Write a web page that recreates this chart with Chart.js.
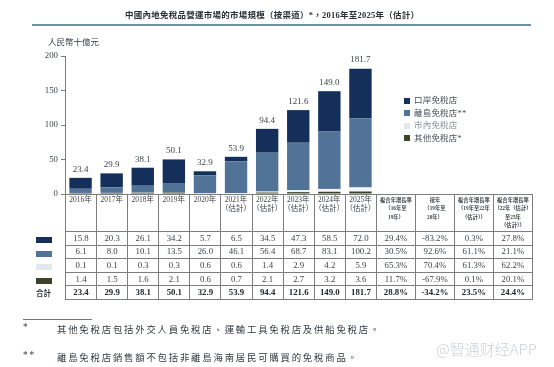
<!DOCTYPE html>
<html>
<head>
<meta charset="utf-8">
<script src="https://cdn.jsdelivr.net/npm/chart.js@4/dist/chart.umd.min.js"></script>
<style>
  html, body { margin: 0; padding: 0; background: #fff; }
  body { width: 554px; height: 367px; position: relative; overflow: hidden;
    font-family: "Liberation Serif", "Noto Sans CJK TC", serif; color: #33393f; }
  #chartBox { position: absolute; left: 0; top: 0; width: 554px; height: 367px; }
  .txt { position: absolute; white-space: nowrap; }
  #title { left: 125px; top: 8px; font-size: 8.5px; letter-spacing: 0.25px; font-weight: bold; color: #2b2f33; }
  #rule { position: absolute; left: 32px; top: 24px; width: 499px; height: 2px; background: #6f929d; }
  #unit { left: 48px; top: 35px; font-size: 8.5px; }
  #legendBox { position: absolute; left: 404px; top: 94px; font-size: 8.5px; line-height: 12.6px; color: #4a5056; }
  #legendBox div { position: relative; padding-left: 10px; white-space: nowrap; letter-spacing: 0.2px; }
  #legendBox div:nth-child(3) { color: #8a9098; }
  #legendBox i { position: absolute; left: 0; top: 3.5px; width: 6px; height: 6px; }
  table { position: absolute; left: 65px; top: 194px; border-collapse: collapse; table-layout: fixed; width: 468px; }
  td { border: 1px solid #7d7d7d; padding: 0; text-align: center; font-size: 8.8px; height: 12.6px; line-height: 11px; color: #3d4349; overflow: hidden; }
  tr.head td { height: 35px; font-size: 5.3px; line-height: 8.4px; vertical-align: top; padding-top: 1px; font-weight: bold; white-space: nowrap; }
  tr.head td.blank { border-top: none; }
  tr.total td { font-weight: bold; color: #22262a; }
  .swatch { position: absolute; left: 36px; width: 16px; height: 6px; }
  #totalLabel { left: 36px; top: 287px; font-size: 7.5px; font-weight: bold; }
  #noteRule { position: absolute; left: 23px; top: 319px; width: 69px; height: 1px; background: #777; }
  .note { font-size: 9.4px; letter-spacing: 1.8px; color: #33393f; }
  #mark { left: 436px; top: 338px; font-size: 15px; color: #cfd1d4; font-family: "Noto Sans CJK SC", sans-serif; font-weight: 300; }
</style>
</head>
<body>
<div id="chartBox"><canvas id="myChart"></canvas></div>
<div class="txt" id="title">中國內地免稅品營運市場的市場規模（按渠道）*，2016年至2025年（估計）</div>
<div id="rule"></div>
<div class="txt" id="unit">人民幣十億元</div>
<div id="legendBox"></div>
<table id="dataTable"></table>
<div class="txt" id="totalLabel">合計</div>
<div id="noteRule"></div>
<div class="txt note" style="left:23px;top:322px">*</div>
<div class="txt note" style="left:57px;top:322px">其他免稅店包括外交人員免稅店、運輸工具免稅店及供船免稅店。</div>
<div class="txt note" style="left:23px;top:350px">**</div>
<div class="txt note" style="left:57px;top:350px">離島免稅店銷售額不包括非離島海南居民可購買的免稅商品。</div>
<div class="txt" id="mark">@智通财经APP</div>

<script>
const years = [
  "2016年", "2017年", "2018年", "2019年", "2020年",
  ["2021年", "（估計）"], ["2022年", "（估計）"], ["2023年", "（估計）"], ["2024年", "（估計）"], ["2025年", "（估計）"]
];
const port = [15.8, 20.3, 26.1, 34.2, 5.7, 6.5, 34.5, 47.3, 58.5, 72.0];
const island = [6.1, 8.0, 10.1, 13.5, 26.0, 46.1, 56.4, 68.7, 83.1, 100.2];
const city = [0.1, 0.1, 0.3, 0.3, 0.6, 0.6, 1.4, 2.9, 4.2, 5.9];
const others = [1.4, 1.5, 1.6, 2.1, 0.6, 0.7, 2.1, 2.7, 3.2, 3.6];
const totals = [23.4, 29.9, 38.1, 50.1, 32.9, 53.9, 94.4, 121.6, 149.0, 181.7];

const cagrHeads = ["複合年增長率<br>（16年至<br>19年）", "按年<br>（19年至<br>20年）", "複合年增長率<br>（19年至22年<br>（估計））", "複合年增長率<br>（22年（估計）<br>至25年<br>（估計））"];
const portRates = ["29.4%", "-83.2%", "0.3%", "27.8%"];
const islandRates = ["30.5%", "92.6%", "61.1%", "21.1%"];
const cityRates = ["65.3%", "70.4%", "61.3%", "62.2%"];
const othersRates = ["11.7%", "-67.9%", "0.1%", "20.1%"];
const totalRates = ["28.8%", "-34.2%", "23.5%", "24.4%"];

const portColor = "#14305a";
const islandColor = "#527398";
const cityColor = "#e4e8ee";
const cityBarColor = "#f3f5f8";
const othersColor = "#3a4327";

// table under the bars
const fmt = v => v.toFixed(1);
let html = '<colgroup>' + years.map(() => '<col style="width:31.1px">').join('') +
  '<col style="width:39px"><col style="width:39px"><col style="width:39px"><col style="width:39px"></colgroup>';
html += '<tr class="head">' + years.map(() => '<td class="blank"></td>').join('') + cagrHeads.map(h => `<td>${h}</td>`).join('') + '</tr>';
[[port, portRates], [island, islandRates], [city, cityRates], [others, othersRates]].forEach(row => {
  html += '<tr>' + row[0].map(v => `<td>${fmt(v)}</td>`).join('') + row[1].map(v => `<td>${v}</td>`).join('') + '</tr>';
});
html += '<tr class="total">' + totals.map(v => `<td>${fmt(v)}</td>`).join('') + totalRates.map(v => `<td>${v}</td>`).join('') + '</tr>';
document.getElementById('dataTable').innerHTML = html;

[[portColor, 237], [islandColor, 251], [cityColor, 264], [othersColor, 278]].forEach(s => {
  const d = document.createElement('div');
  d.className = 'swatch';
  d.style.background = s[0];
  d.style.top = s[1] + 'px';
  document.body.appendChild(d);
});

document.getElementById('legendBox').innerHTML =
  [[portColor, "口岸免稅店"], [islandColor, "離島免稅店**"], [cityColor, "市內免稅店"], [othersColor, "其他免稅店*"]]
    .map(l => `<div><i style="background:${l[0]}"></i>${l[1]}</div>`).join('');

// totals above each stack
const totalLabels = {
  id: 'totalLabels',
  afterDatasetsDraw(chart) {
    const ctx = chart.ctx;
    const xs = chart.scales.x;
    const ys = chart.scales.y;
    ctx.save();
    ctx.font = '9px "Liberation Serif"';
    ctx.fillStyle = '#3d4349';
    ctx.textAlign = 'center';
    ctx.textBaseline = 'bottom';
    totals.forEach((t, i) => {
      ctx.fillText(t.toFixed(1), xs.getPixelForValue(i), ys.getPixelForValue(t) - 4);
    });
    ctx.restore();
  }
};

new Chart("myChart", {
  type: "bar",
  plugins: [totalLabels],
  data: {
    labels: years,
    datasets: [
      { label: "其他免稅店*", data: others, backgroundColor: othersColor },
      { label: "市內免稅店", data: city, backgroundColor: cityBarColor },
      { label: "離島免稅店**", data: island, backgroundColor: islandColor },
      { label: "口岸免稅店", data: port, backgroundColor: portColor }
    ]
  },
  options: {
    responsive: true,
    maintainAspectRatio: false,
    animation: false,
    layout: { padding: { left: 38, top: 56, right: 178, bottom: 140 } },
    plugins: {
      tooltip: { enabled: false },
      legend: { display: false }
    },
    scales: {
      x: {
        stacked: true,
        barPercentage: 0.72,
        categoryPercentage: 1,
        offset: true,
        grid: { display: false, drawTicks: false },
        border: { color: "#7d7d7d" },
        ticks: {
          color: "#3d4349",
          maxRotation: 0,
          autoSkip: false,
          padding: 2,
          font: { family: '"Liberation Serif", "Noto Sans CJK TC"', size: 7.5, lineHeight: 1.2 }
        },
        afterFit(scale) { scale.height = 33; }
      },
      y: {
        stacked: true,
        min: 0,
        max: 200,
        grid: { drawOnChartArea: false, drawTicks: true, tickLength: 4, color: "#7d7d7d" },
        border: { color: "#7d7d7d" },
        afterBuildTicks(scale) {
          scale.ticks = [200, 150, 100, 50, 0].map(v => ({ value: v }));
        },
        ticks: {
          color: "#3d4349",
          padding: 3,
          font: { family: '"Liberation Serif"', size: 8.8 }
        },
        afterFit(scale) { scale.width = 27; }
      }
    }
  }
});
</script>
</body>
</html>
